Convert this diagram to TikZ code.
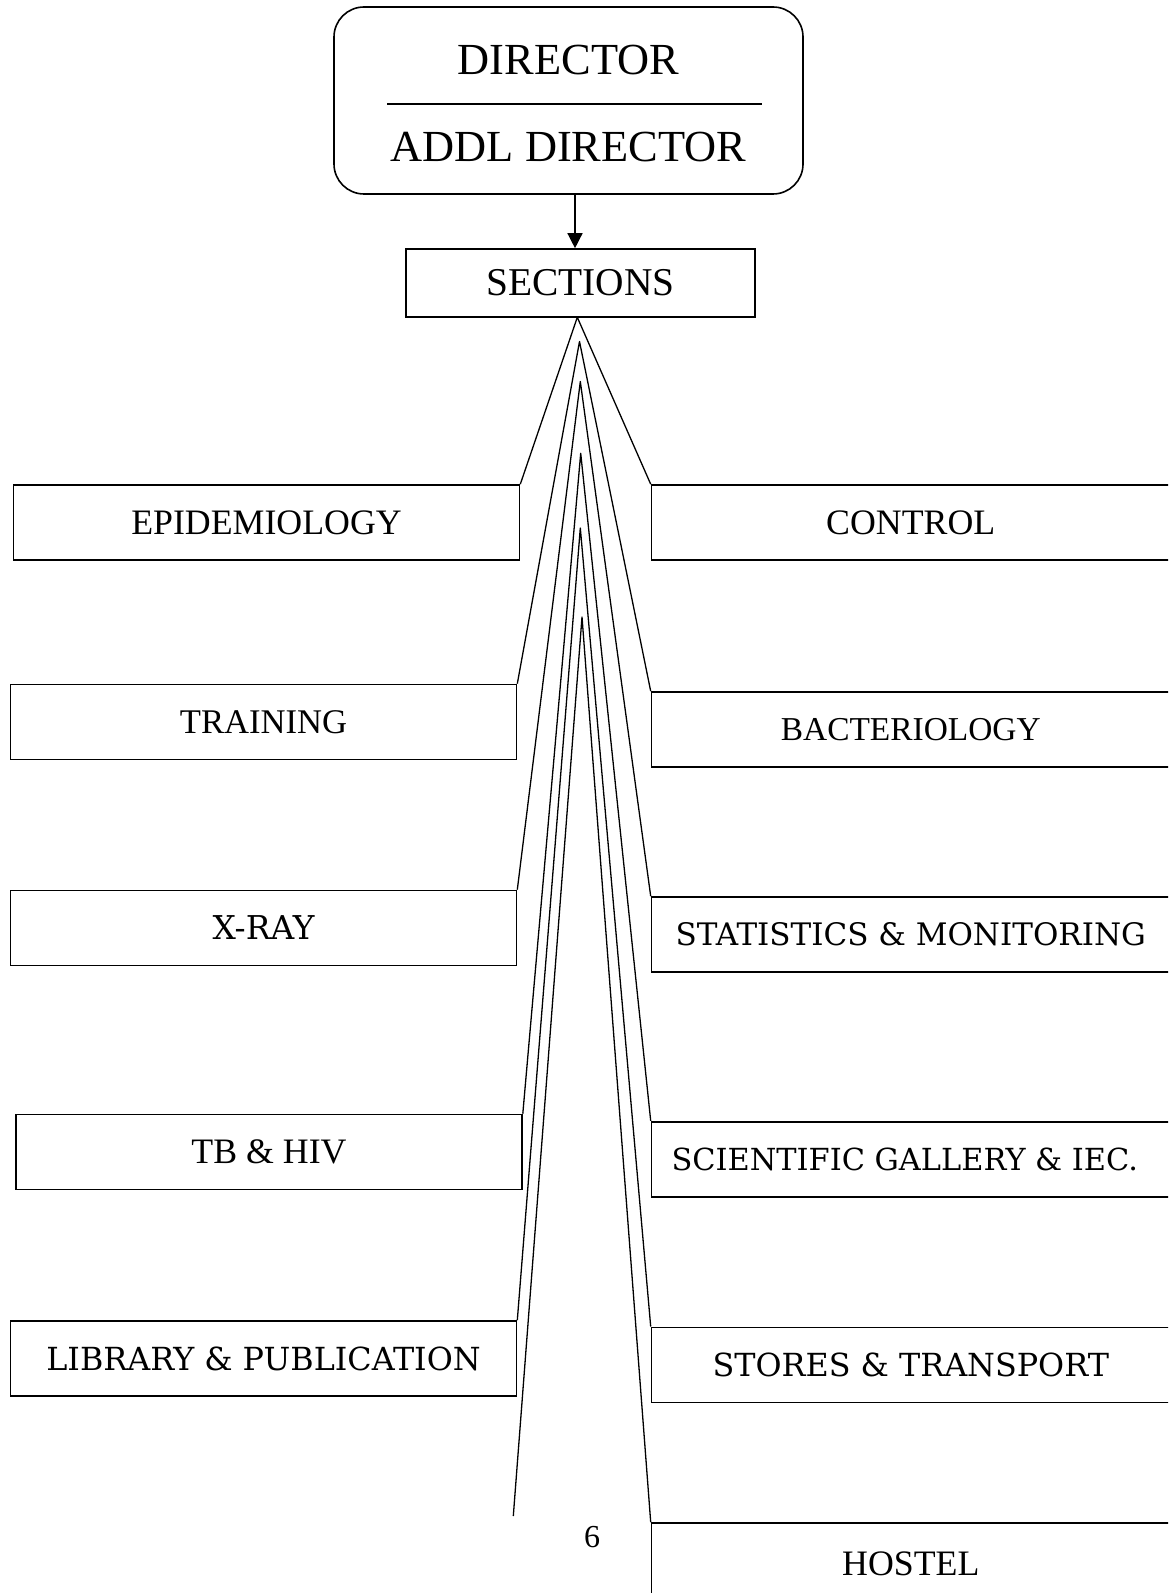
\documentclass[tikz,border=0pt]{standalone}
\usepackage{fontspec}
\setmainfont{Liberation Serif}
\newfontfamily\widefont{DejaVu Serif}
\usetikzlibrary{arrows.meta}
\tikzstyle{arrow} = [line width=0.7pt, -{Triangle[length=7.5pt, width=7.5pt]}]
\tikzstyle{secbox} = [draw, line width=0.8pt, minimum height=37.5pt, inner sep=0pt]
\tikzstyle{leftbox} = [secbox, minimum width=253pt]
\tikzstyle{rightbox} = [secbox, minimum width=259.25pt]
\tikzstyle{serif} = [font=\fontsize{17.9}{20}\selectfont]
\tikzstyle{wide} = [font=\widefont\fontsize{15.9}{20}\selectfont]
\tikzstyle{fan} = [line width=0.65pt, line join=round]

\begin{document}
\begin{tikzpicture}[x=0.5pt, y=-0.5pt]
    \useasboundingbox (0, 0) rectangle (1168, 1593);
    \clip (0, 0) rectangle (1168, 1593);
    % head of the chart
    \node[draw, line width=0.8pt, rounded corners=15pt, minimum width=234.5pt, minimum height=93.5pt, align=center, font=\fontsize{22.2}{43.5}\selectfont] (director) at (568.5, 100.5) {\rule{0pt}{18.2pt}DIRECTOR\\ADDL DIRECTOR};
    \draw[line width=0.6pt] (director.center) ++(-181.5, 3.5) -- ++(375, 0);
    \node[secbox, minimum width=174.5pt, minimum height=34pt, font=\fontsize{19.7}{22}\selectfont] (sections) at (580.5, 283) {SECTIONS};
    \draw[arrow] ([xshift=3.25pt]director.south) -- ([xshift=-2.75pt]sections.north);
    % left column
    \node[leftbox, serif] (epi) at (266.5, 522.5) {EPIDEMIOLOGY};
    \node[leftbox, serif, font=\fontsize{17.3}{20}\selectfont] (training) at (263.5, 722) {TRAINING};
    \node[leftbox, wide, font=\widefont\fontsize{16.4}{20}\selectfont] (xray) at (263.5, 928) {X-RAY};
    \node[leftbox, serif] (tbhiv) at (269, 1152) {TB \& HIV};
    \node[leftbox, wide] (library) at (263.5, 1358.5) {LIBRARY \& PUBLICATION};
    % right column
    \node[rightbox, serif] (control) at (910.75, 522.5) {CONTROL};
    \node[rightbox, font=\fontsize{16.7}{20}\selectfont] (bact) at (910.75, 729.5) {BACTERIOLOGY};
    \node[rightbox, wide, font=\widefont\fontsize{15.5}{20}\selectfont] (stats) at (910.75, 934.5) {STATISTICS \& MONITORING};
    \node[rightbox, wide, font=\widefont\fontsize{15.2}{20}\selectfont] (gallery) at (910.75, 1159.2) {SCIENTIFIC GALLERY \& IEC.\kern6pt};
    \node[rightbox, wide] (stores) at (910.75, 1364.8) {STORES \& TRANSPORT};
    \node[rightbox, serif, minimum height=41pt] (hostel) at (910.75, 1564) {HOSTEL};
    % apexes of the fan
    \coordinate (a1) at (577.3, 317.3);
    \coordinate (a2) at (579.5, 341.5);
    \coordinate (a3) at (580.3, 381.5);
    \coordinate (a4) at (580.7, 453.3);
    \coordinate (a5) at (580.3, 528);
    \coordinate (a6) at (582, 617);
    \coordinate (loose) at (513.3, 1516);
    \draw[fan] (epi.north east) -- (a1) -- (control.north west);
    \draw[fan] (training.north east) -- (a2) -- (bact.north west);
    \draw[fan] (xray.north east) -- (a3) -- (stats.north west);
    \draw[fan] (tbhiv.north east) -- (a4) -- (gallery.north west);
    \draw[fan] (library.north east) -- (a5) -- (stores.north west);
    \draw[fan] (loose) -- (a6) -- (hostel.north west);
    \node[font=\fontsize{16}{18}\selectfont] (pagenum) at (592, 1537) {6};
\end{tikzpicture}
\end{document}
